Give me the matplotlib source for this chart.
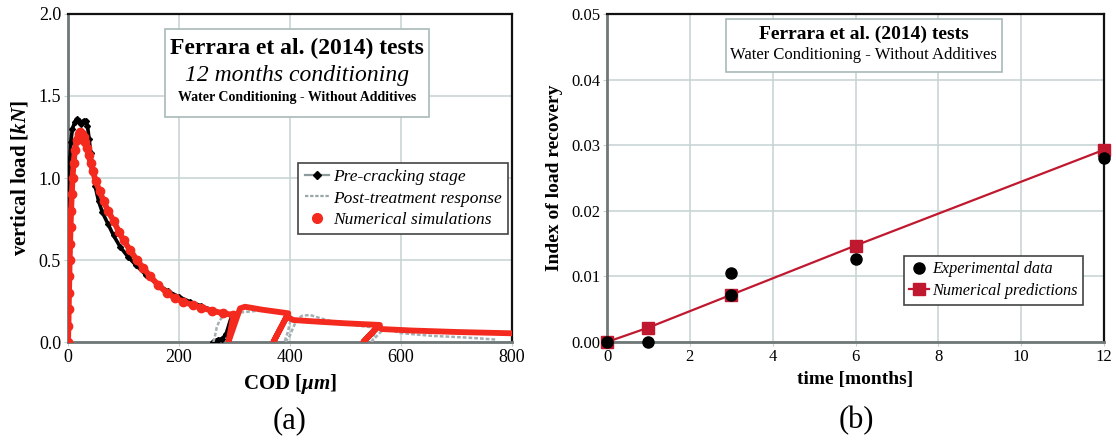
import matplotlib
matplotlib.use("Agg")
import matplotlib.pyplot as plt
from matplotlib.lines import Line2D
from matplotlib.patches import Rectangle

plt.rcParams['font.family'] = ['Liberation Serif', 'DejaVu Serif']
plt.rcParams['mathtext.fontset'] = 'custom'
plt.rcParams['mathtext.rm'] = 'Liberation Serif:bold'
plt.rcParams['mathtext.it'] = 'Liberation Serif:italic:bold'
plt.rcParams['mathtext.bf'] = 'Liberation Serif:bold'

# ---------------- data: panel (a) ----------------
pre_cod = [0, 0.4, 0.8, 1.2, 1.7, 2.4, 3.5, 5, 8, 12, 16, 20, 24, 28, 32, 35, 38, 41, 45, 49,
           55, 62, 72, 82, 94, 108, 122, 140, 160, 180, 200, 220, 240, 260, 280, 295,
           285, 278, 270, 266, 262]
pre_load = [0, 0.2, 0.4, 0.6, 0.8, 1.0, 1.12, 1.22, 1.30, 1.34, 1.36, 1.35, 1.33, 1.35, 1.35, 1.32,
            1.24, 1.15, 1.05, 0.95, 0.86, 0.79, 0.72, 0.65, 0.58, 0.52, 0.47, 0.41, 0.355, 0.31,
            0.275, 0.245, 0.22, 0.195, 0.175, 0.16, 0.05, 0.02, 0.015, 0.005, 0.0]

post1_cod = [262, 265, 268, 273, 280, 292, 310, 340, 370, 398, 402, 396, 390]
post1_load = [0, 0.04, 0.09, 0.13, 0.16, 0.175, 0.18, 0.19, 0.19, 0.18, 0.15, 0.06, 0.0]
post2_cod = [392, 400, 406, 413, 422, 436, 450, 466, 490, 520, 548, 552, 548]
post2_load = [0, 0.04, 0.09, 0.14, 0.16, 0.165, 0.15, 0.134, 0.115, 0.10, 0.09, 0.05, 0.0]
post3_cod = [546, 552, 560, 568, 576, 598, 630, 658, 690, 718, 745, 770]
post3_load = [0, 0.02, 0.05, 0.075, 0.08, 0.055, 0.045, 0.037, 0.032, 0.027, 0.021, 0.015]

num_cod = [0, 0.8, 1.3, 1.8, 2.4, 3.0, 3.8, 4.6, 5.6, 6.8, 8.2, 10, 12.5, 15.5, 19, 22, 25, 28,
           31, 34, 37, 41, 45, 50, 57, 64, 72, 82, 92, 100, 112, 124, 136, 148, 162, 178,
           192, 208, 225, 240, 260, 280, 298,
           289, 310, 319, 350, 397,
           370, 394, 406, 450, 500, 562,
           532, 559, 565, 620, 700, 800]
num_load = [0, 0.1, 0.2, 0.3, 0.4, 0.5, 0.6, 0.7, 0.8, 0.9, 1.0, 1.09, 1.17, 1.23, 1.27, 1.28, 1.27,
            1.25, 1.22, 1.18, 1.14, 1.09, 1.04, 0.98, 0.92, 0.86, 0.80, 0.74, 0.67, 0.62, 0.56,
            0.50, 0.45, 0.40, 0.35, 0.30, 0.27, 0.245, 0.225, 0.21, 0.19, 0.175, 0.165,
            0.0, 0.205, 0.215, 0.197, 0.175,
            0.0, 0.154, 0.134, 0.124, 0.114, 0.104,
            0.0, 0.098, 0.079, 0.07, 0.061, 0.053]

# ---------------- data: panel (b) ----------------
exp_time = [0, 1, 3, 3, 6, 12]
exp_index = [0.0, 0.0, 0.0105, 0.0071, 0.0126, 0.028]
num_time = [0, 1, 3, 6, 12]
num_index = [0.0, 0.0022, 0.0072, 0.0147, 0.0293]

# ---------------- styling ----------------
GRID = '#c6d2d2'
SPINE_LB = '#6f7777'
RED = '#f42a1e'
CRIMSON = '#c0182f'

fig = plt.figure(figsize=(11.16, 4.44), dpi=100)
axa = fig.add_axes([68/1116, 1-342/444, 444/1116, 328/444])
axb = fig.add_axes([607/1116, 1-342/444, 497/1116, 328/444])

def style(ax, size):
    ax.grid(True, color=GRID, lw=1.1)
    ax.set_axisbelow(True)
    for s in ['left', 'bottom']:
        ax.spines[s].set_color(SPINE_LB)
        ax.spines[s].set_linewidth(2.0)
    for s in ['top', 'right']:
        ax.spines[s].set_color('#111111')
        ax.spines[s].set_linewidth(1.6)
    ax.tick_params(direction='out', length=3, color=GRID, labelsize=size, pad=2)

# ---- panel (a)
style(axa, 13)
axa.plot(pre_cod, pre_load, color='black', lw=2.6, marker='D', ms=3, zorder=3)
for xs, ys in [(post1_cod, post1_load), (post2_cod, post2_load), (post3_cod, post3_load)]:
    axa.plot(xs, ys, color='#a4b0b3', lw=1.8, ls=(0, (1.5, 0.8)), zorder=4)
axa.plot(num_cod, num_load, color=RED, lw=4.2, solid_capstyle='round',
         solid_joinstyle='round', zorder=5)
axa.plot(num_cod[:43], num_load[:43], ls='none', marker='o', ms=6, color=RED, zorder=6)
axa.set_xlim(0, 800)
axa.set_ylim(0, 2.0)
axa.set_xticks([0, 200, 400, 600, 800])
axa.set_yticks([0, 0.5, 1.0, 1.5, 2.0])
axa.set_yticklabels(['0.0', '0.5', '1.0', '1.5', '2.0'])
axa.set_xlabel(r'COD $[\mathit{\mu m}]$', fontsize=15, fontweight='bold', labelpad=4)
axa.set_ylabel(r'vertical load $[\mathit{kN}]$', fontsize=15, fontweight='bold', labelpad=6)

axa.add_patch(Rectangle((0.218, 0.686), 0.594, 0.268, transform=axa.transAxes,
                        facecolor='white', edgecolor='#a9b9b9', lw=1.2, zorder=7))
cx = 0.515
axa.text(cx, 0.895, 'Ferrara et al. (2014) tests', transform=axa.transAxes, ha='center',
         va='center', fontsize=17, fontweight='bold', zorder=8)
axa.text(cx, 0.811, '12 months conditioning', transform=axa.transAxes, ha='center',
         va='center', fontsize=17, style='italic', zorder=8)
axa.text(cx, 0.746, 'Water Conditioning - Without Additives', transform=axa.transAxes,
         ha='center', va='center', fontsize=10, fontweight='bold', zorder=8)

ha = [Line2D([], [], color='#8c9c9c', lw=1.6, marker='D', ms=4, mfc='black', mec='black'),
      Line2D([], [], color='#9aa6a8', lw=1.6, ls=(0, (1.5, 0.8))),
      Line2D([], [], color=RED, ls='none', marker='o', ms=7)]
leg = axa.legend(ha, ['Pre-cracking stage', 'Post-treatment response', 'Numerical simulations'],
                 loc='upper left', bbox_to_anchor=(0.519, 0.546), borderaxespad=0,
                 fancybox=False, edgecolor='#444444', framealpha=1,
                 prop={'style': 'italic', 'size': 12.5}, handlelength=1.4,
                 handletextpad=0.25, labelspacing=0.3, borderpad=0.35)
leg.get_frame().set_linewidth(1.2)
leg.set_zorder(9)

# ---- panel (b)
style(axb, 12)
axb.plot(num_time, num_index, color=CRIMSON, lw=1.6, marker='s', ms=9, zorder=4, clip_on=False)
axb.plot(exp_time, exp_index, ls='none', marker='o', ms=8, color='black', zorder=5, clip_on=False)
axb.set_xlim(0, 12)
axb.set_ylim(0, 0.05)
axb.set_xticks([0, 2, 4, 6, 8, 10, 12])
axb.set_yticks([0, 0.01, 0.02, 0.03, 0.04, 0.05])
axb.set_yticklabels(['0.00', '0.01', '0.02', '0.03', '0.04', '0.05'])
axb.set_xlabel('time [months]', fontsize=14, fontweight='bold', labelpad=4)
axb.set_ylabel('Index of load recovery', fontsize=14, fontweight='bold', labelpad=6)

axb.add_patch(Rectangle((0.239, 0.824), 0.555, 0.161, transform=axb.transAxes,
                        facecolor='white', edgecolor='#a9b9b9', lw=1.2, zorder=7))
axb.text(0.5165, 0.937, 'Ferrara et al. (2014) tests', transform=axb.transAxes, ha='center',
         va='center', fontsize=14, fontweight='bold', zorder=8)
axb.text(0.5165, 0.876, 'Water Conditioning - Without Additives', transform=axb.transAxes,
         ha='center', va='center', fontsize=12, zorder=8)

hb = [Line2D([], [], color='black', ls='none', marker='o', ms=8),
      Line2D([], [], color=CRIMSON, lw=1.6, marker='s', ms=9)]
legb = axb.legend(hb, ['Experimental data', 'Numerical predictions'],
                  loc='upper left', bbox_to_anchor=(0.597, 0.263), borderaxespad=0,
                  fancybox=False, edgecolor='#444444', framealpha=1,
                  prop={'style': 'italic', 'size': 11.7}, handlelength=1.2,
                  handletextpad=0.2, labelspacing=0.35, borderpad=0.35)
legb.get_frame().set_linewidth(1.2)

fig.text(290/1116, 1-421/444, '(a)', ha='center', va='center', fontsize=22)
fig.text(856/1116, 1-421/444, '(b)', ha='center', va='center', fontsize=22)

fig.savefig('out.png', dpi=100)
